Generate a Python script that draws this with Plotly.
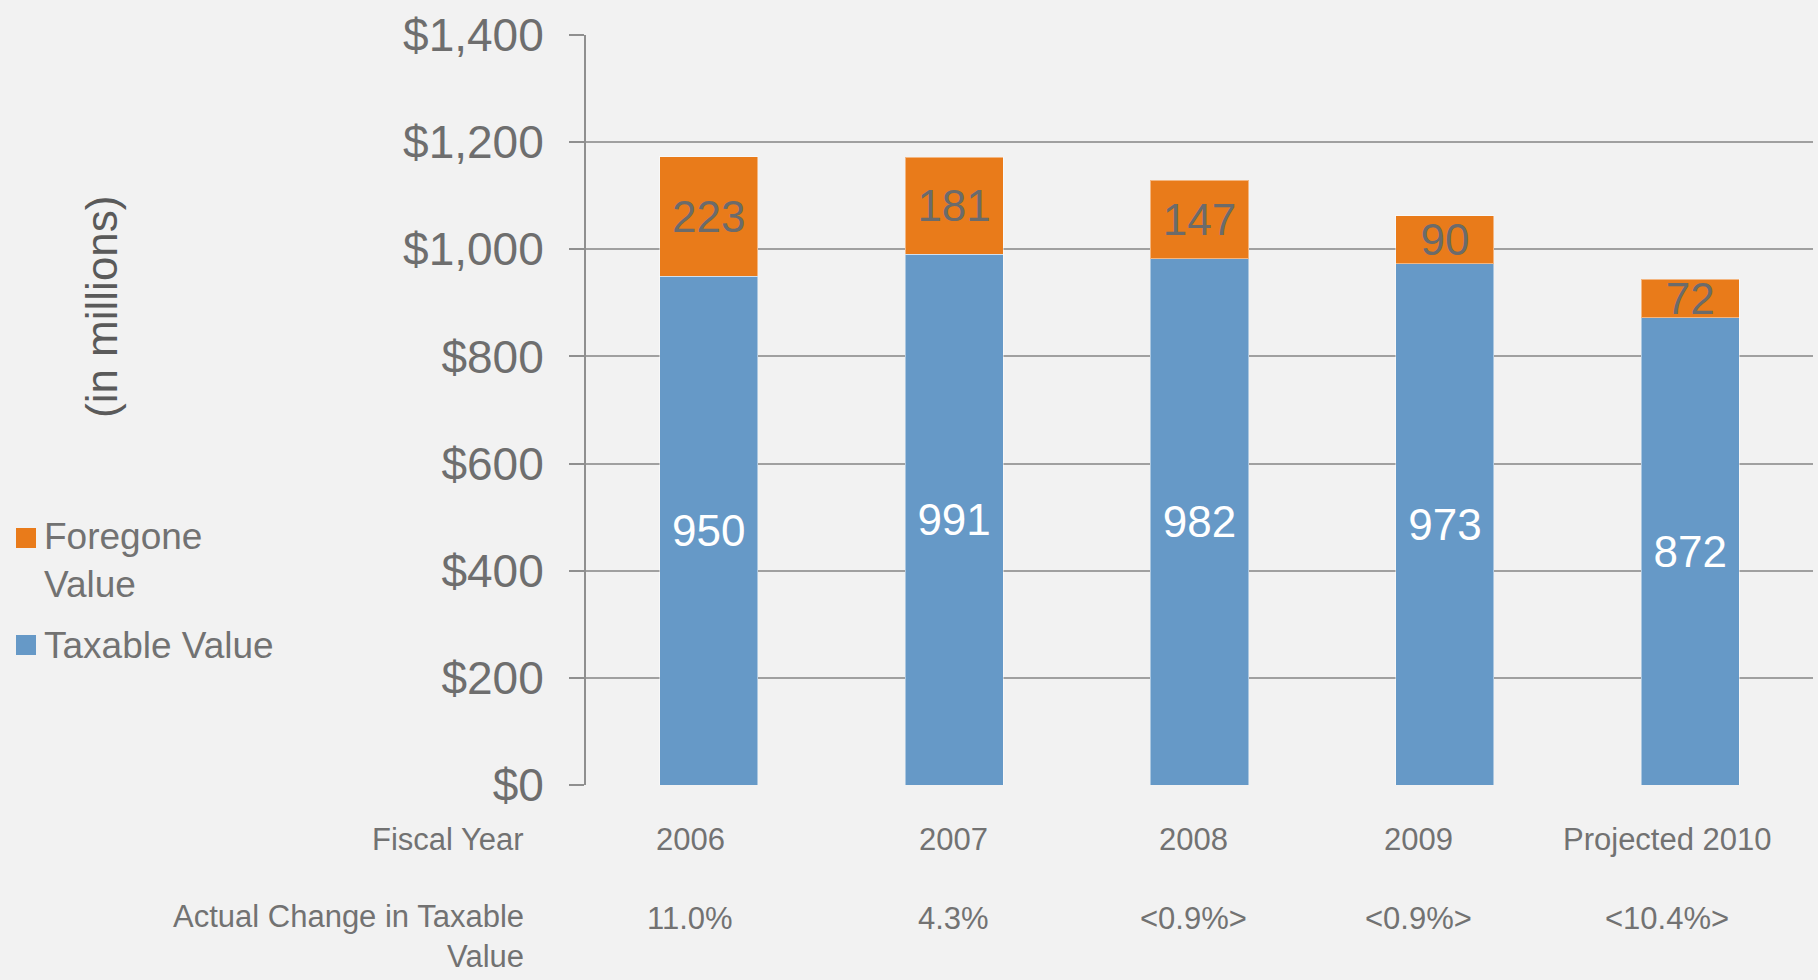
import plotly.graph_objects as go

# ---- data ----
categories = ["2006", "2007", "2008", "2009", "Projected 2010"]
taxable_value = [950, 991, 982, 973, 872]
foregone_value = [223, 181, 147, 90, 72]
fiscal_year_labels = ["2006", "2007", "2008", "2009", "Projected 2010"]
actual_change_labels = ["11.0%", "4.3%", "<0.9%>", "<0.9%>", "<10.4%>"]
y_tick_values = [0, 200, 400, 600, 800, 1000, 1200, 1400]
y_tick_text = ["&#36;" + f"{v:,}" for v in y_tick_values]

# ---- style ----
W, H = 1818, 980
L, R, T, B = 586, 5, 35, 195
PW, PH = W - L - R, H - T - B
BG = "#F2F2F2"
BLUE = "#6699C7"
ORANGE = "#E97B1A"
TXT = "#727272"
FONT = "Liberation Sans, Arial, sans-serif"


def px_x(x):
    return (x - L) / PW


def px_y(y):
    return (H - B - y) / PH


fig = go.Figure()
fig.add_trace(go.Bar(
    x=categories, y=taxable_value, name="Taxable Value",
    marker=dict(color=BLUE, line=dict(color="rgba(255,255,255,0.45)", width=1)),
    text=[str(v) for v in taxable_value], textposition="inside",
    insidetextanchor="middle", textangle=0, constraintext="none",
    textfont=dict(family=FONT, size=44, color="white"),
    showlegend=False,
))
fig.add_trace(go.Bar(
    x=categories, y=foregone_value, name="Foregone Value",
    marker=dict(color=ORANGE, line=dict(color="rgba(255,255,255,0.45)", width=1)),
    text=[str(v) for v in foregone_value], textposition="inside",
    insidetextanchor="middle", textangle=0, constraintext="none",
    textfont=dict(family=FONT, size=44, color="#6B6B6B"),
    showlegend=False,
))

annotations = []
# y-axis title
annotations.append(dict(
    text="(in millions)", xref="paper", yref="paper",
    x=px_x(101), y=px_y(307), textangle=-90, showarrow=False,
    xanchor="center", yanchor="middle",
    font=dict(family=FONT, size=44, color="#5A5A5A"),
))
# table rows under the chart
fiscal_x = [690, 953, 1193, 1418, 1667]
annotations.append(dict(
    text="Fiscal Year", xref="paper", yref="paper", x=px_x(526), y=px_y(839),
    xanchor="right", yanchor="middle", showarrow=False,
    font=dict(family=FONT, size=31, color=TXT),
))
annotations.append(dict(
    text="Actual Change in Taxable<br>Value", xref="paper", yref="paper",
    x=px_x(526), y=px_y(937), xanchor="right", yanchor="middle", align="right",
    showarrow=False, font=dict(family=FONT, size=31, color=TXT),
))
for xp, fy, ch in zip(fiscal_x, fiscal_year_labels, actual_change_labels):
    annotations.append(dict(
        text=fy, xref="paper", yref="paper", x=px_x(xp), y=px_y(839),
        xanchor="center", yanchor="middle", showarrow=False,
        font=dict(family=FONT, size=31, color=TXT),
    ))
    annotations.append(dict(
        text=ch, xref="paper", yref="paper", x=px_x(xp), y=px_y(918),
        xanchor="center", yanchor="middle", showarrow=False,
        font=dict(family=FONT, size=31, color=TXT),
    ))

# manual legend
shapes = []
legend_items = [("Foregone<br>Value", ORANGE, 538, 560), ("Taxable Value", BLUE, 645, 645)]
for label, color, sq_y, txt_y in legend_items:
    shapes.append(dict(
        type="rect", xref="paper", yref="paper",
        x0=px_x(16), x1=px_x(36), y0=px_y(sq_y - 10), y1=px_y(sq_y + 10),
        fillcolor=color, line=dict(width=0),
    ))
    annotations.append(dict(
        text=label, xref="paper", yref="paper", x=px_x(42), y=px_y(txt_y),
        xanchor="left", yanchor="middle", align="left", showarrow=False,
        font=dict(family=FONT, size=37, color=TXT),
    ))

fig.update_layout(
    width=W, height=H,
    margin=dict(l=L, r=R, t=T, b=B, pad=0),
    paper_bgcolor=BG, plot_bgcolor=BG,
    barmode="stack", bargap=0.6,
    uniformtext=dict(mode="show", minsize=44),
    annotations=annotations, shapes=shapes,
    showlegend=False,
    xaxis=dict(
        range=[-0.5, 4.5], showticklabels=False, showgrid=False,
        zeroline=False, showline=False, ticks="",
    ),
    yaxis=dict(
        range=[0, 1400], tickmode="array", tickvals=y_tick_values, ticktext=y_tick_text,
        showgrid=True, gridcolor="#A0A0A0", gridwidth=2,
        zeroline=False, showline=True, linecolor="#8F8F8F", linewidth=2,
        ticks="outside", ticklen=15, tickwidth=2, tickcolor="#8F8F8F",
        ticklabelstandoff=16,
        tickfont=dict(family=FONT, size=46, color="#6E6E6E"),
    ),
)

fig.write_html(
    "out.html",
    config={"displayModeBar": False},
    post_script="document.body.style.margin='0';document.body.style.background='#F2F2F2';",
)
